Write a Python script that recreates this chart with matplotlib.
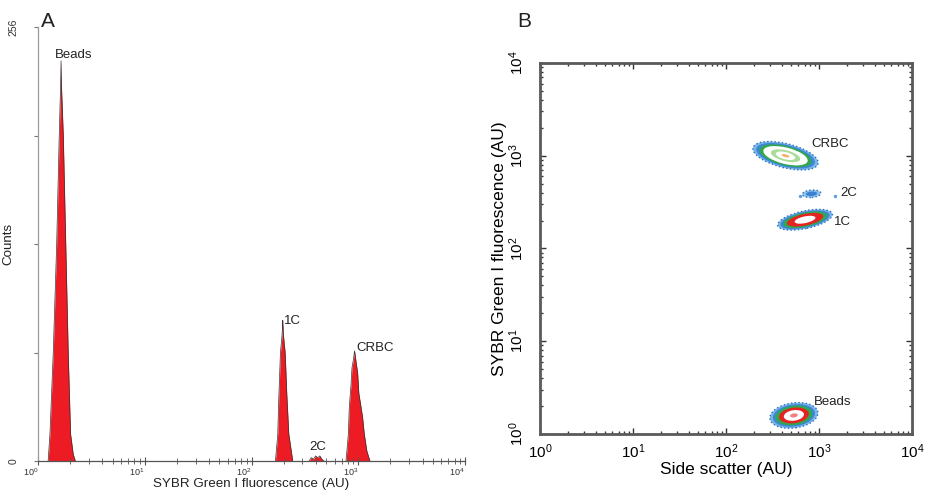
"""
Two-panel flow cytometry figure: (A) SYBR Green I histogram, (B) SSC vs SYBR density.
Axes run in log10 units so the cluster ellipses can be placed directly.
"""
import matplotlib.pyplot as plt
import numpy as np
from matplotlib.patches import Ellipse

plt.rcParams["font.family"] = ["Liberation Sans", "DejaVu Sans"]
plt.rcParams["mathtext.fontset"] = "custom"
plt.rcParams["mathtext.rm"] = "Liberation Sans"

# --- Panel A: histogram peaks (log10 fluorescence, counts) ---
beads_x = [0.095, 0.112, 0.143, 0.175, 0.199, 0.212, 0.216, 0.220, 0.237, 0.260, 0.283, 0.305, 0.330, 0.350]
beads_y = [0, 16, 64, 128, 192, 222, 236, 221, 192, 128, 64, 16, 4, 0]
c1_x = [2.224, 2.246, 2.255, 2.271, 2.283, 2.290, 2.293, 2.297, 2.305, 2.315, 2.330, 2.349, 2.386]
c1_y = [0, 16, 36, 64, 72, 78, 83, 76, 70, 64, 40, 16, 0]
c2_x = [2.54, 2.56, 2.58, 2.60, 2.62, 2.64, 2.66, 2.68]
c2_y = [0, 2, 1, 3, 2, 3, 1, 0]
crbc_x = [2.885, 2.907, 2.916, 2.932, 2.941, 2.955, 2.965, 2.972, 2.980, 2.994, 3.005,
          3.025, 3.040, 3.056, 3.080, 3.109]
crbc_y = [0, 16, 32, 45, 55, 60, 65, 62, 58, 52, 40, 32, 26, 16, 6, 0]

hist_labels = ["Beads", "1C", "2C", "CRBC"]
hist_label_x = [0.16, 2.30, 2.54, 2.98]
hist_label_y = [236, 79, 5, 63]

count_ticks = [0, 64, 128, 192, 256]
count_ticklabels = ["0", "", "", "", "256"]

decades = [0, 1, 2, 3, 4]
decade_labels = [r"$\mathregular{10^{0}}$", r"$\mathregular{10^{1}}$", r"$\mathregular{10^{2}}$",
                 r"$\mathregular{10^{3}}$", r"$\mathregular{10^{4}}$"]

# --- Panel B: density clusters (log10 SSC, log10 SYBR) ---
cluster_names = ["CRBC", "2C", "1C", "Beads"]
cluster_ssc = [2.64, 2.92, 2.85, 2.73]
cluster_fl = [3.00, 2.59, 2.31, 0.20]
cluster_a = [0.36, 0.10, 0.30, 0.26]
cluster_b = [0.13, 0.04, 0.095, 0.135]
cluster_tilt = [-14, 4, 12, 8]
stray_ssc = [3.17, 2.80]
stray_fl = [2.57, 2.57]

label_ssc = [2.92, 3.23, 3.16, 2.94]
label_fl = [3.06, 2.53, 2.22, 0.28]

# contour shells per cluster: (relative size, colour)
LEVELS = {
    "CRBC": [(1.0, "#7ab8ea"), (0.9, "#3f86d4"), (0.8, "#2fa84f"), (0.68, "#ffffff"),
             (0.45, "#a8dc98"), (0.3, "#ffffff"), (0.12, "#f4b36a")],
    "2C": [(1.0, "#8cc2ec"), (0.6, "#3a7fd0")],
    "1C": [(1.0, "#7ab8ea"), (0.9, "#3f86d4"), (0.8, "#2fa84f"), (0.66, "#e52421"), (0.38, "#ffffff")],
    "Beads": [(1.0, "#7ab8ea"), (0.88, "#3f86d4"), (0.77, "#2fa84f"), (0.62, "#e52421"),
              (0.42, "#ffffff"), (0.16, "#f08080")],
}

fig = plt.figure(figsize=(9.31, 4.94), dpi=100)

# === Panel A ===
axA = fig.add_axes([0.0408, 0.0668, 0.4587, 0.8785])
for xs, ys in [(beads_x, beads_y), (c1_x, c1_y), (c2_x, c2_y), (crbc_x, crbc_y)]:
    axA.fill_between(xs, ys, 0, color="#ed1c24", linewidth=0)
    axA.plot(xs, ys, color="#333333", linewidth=0.5)
for name, x, y in zip(hist_labels, hist_label_x, hist_label_y):
    axA.text(x, y, name, fontsize=9.5, ha="left", va="bottom", color="#222222")

axA.set_xlim(0, 4)
axA.set_ylim(0, 256)
for s in ["top", "right"]:
    axA.spines[s].set_visible(False)
axA.spines["left"].set_color("#9a9a9a")
axA.spines["left"].set_linewidth(0.9)
axA.spines["bottom"].set_color("#555555")
axA.spines["bottom"].set_linewidth(0.9)
axA.set_yticks(count_ticks)
axA.set_yticklabels(count_ticklabels, rotation=90, va="center", fontsize=7.5, color="#333333")
axA.tick_params(axis="y", direction="out", length=3, width=0.8, color="#777777", pad=11)
axA.set_xticks(decades)
axA.set_xticklabels(decade_labels, fontsize=6.5, ha="right", color="#333333")
axA.set_xticks([d + np.log10(k) for d in decades[:-1] for k in range(2, 10)], minor=True)
axA.tick_params(axis="x", which="major", direction="inout", length=6, width=0.8, color="#555555", pad=1)
axA.tick_params(axis="x", which="minor", direction="inout", length=4, width=0.6, color="#555555")
axA.set_xlabel("SYBR Green I fluorescence (AU)", fontsize=9.6, labelpad=0, color="#222222")
axA.set_ylabel("Counts", fontsize=9.6, labelpad=-4, color="#222222")
fig.text(0.044, 0.945, "A", fontsize=15, color="#222222")

# === Panel B ===
axB = fig.add_axes([0.580, 0.1215, 0.3996, 0.751])
for i, name in enumerate(cluster_names):
    for k, (scale, col) in enumerate(LEVELS[name]):
        e = Ellipse((cluster_ssc[i], cluster_fl[i]), 2 * cluster_a[i] * scale,
                    2 * cluster_b[i] * scale, angle=cluster_tilt[i], facecolor=col,
                    edgecolor="#2f6fc0" if k == 0 else "none", linewidth=1.0,
                    linestyle=":")
        axB.add_patch(e)
axB.scatter(stray_ssc, stray_fl, s=6, color="#5a9ee0", linewidth=0)
for name, x, y in zip(cluster_names, label_ssc, label_fl):
    axB.text(x, y, name, fontsize=9.5, ha="left", va="bottom", color="#222222")

axB.set_xlim(0, 4)
axB.set_ylim(0, 4)
for s in axB.spines.values():
    s.set_linewidth(2)
    s.set_color("#5a5a5a")
minor = [d + np.log10(k) for d in decades[:-1] for k in range(2, 10)]
axB.set_xticks(decades)
axB.set_yticks(decades)
axB.set_xticks(minor, minor=True)
axB.set_yticks(minor, minor=True)
axB.set_xticklabels(decade_labels, fontsize=11)
axB.set_yticklabels(decade_labels, fontsize=11, rotation=90, va="center")
axB.tick_params(which="major", direction="in", length=4, width=1, color="#333333",
                top=True, right=True)
axB.tick_params(which="minor", direction="in", length=2, width=1, color="#333333",
                top=True, right=True)
axB.tick_params(axis="y", which="major", pad=10)
axB.tick_params(axis="x", which="major", pad=6)
axB.set_xlabel("Side scatter (AU)", fontsize=12.5, labelpad=1)
axB.set_ylabel("SYBR Green I fluorescence (AU)", fontsize=12.5, labelpad=0)
fig.text(0.556, 0.945, "B", fontsize=15, color="#222222")

fig.savefig("out.png", dpi=100)
